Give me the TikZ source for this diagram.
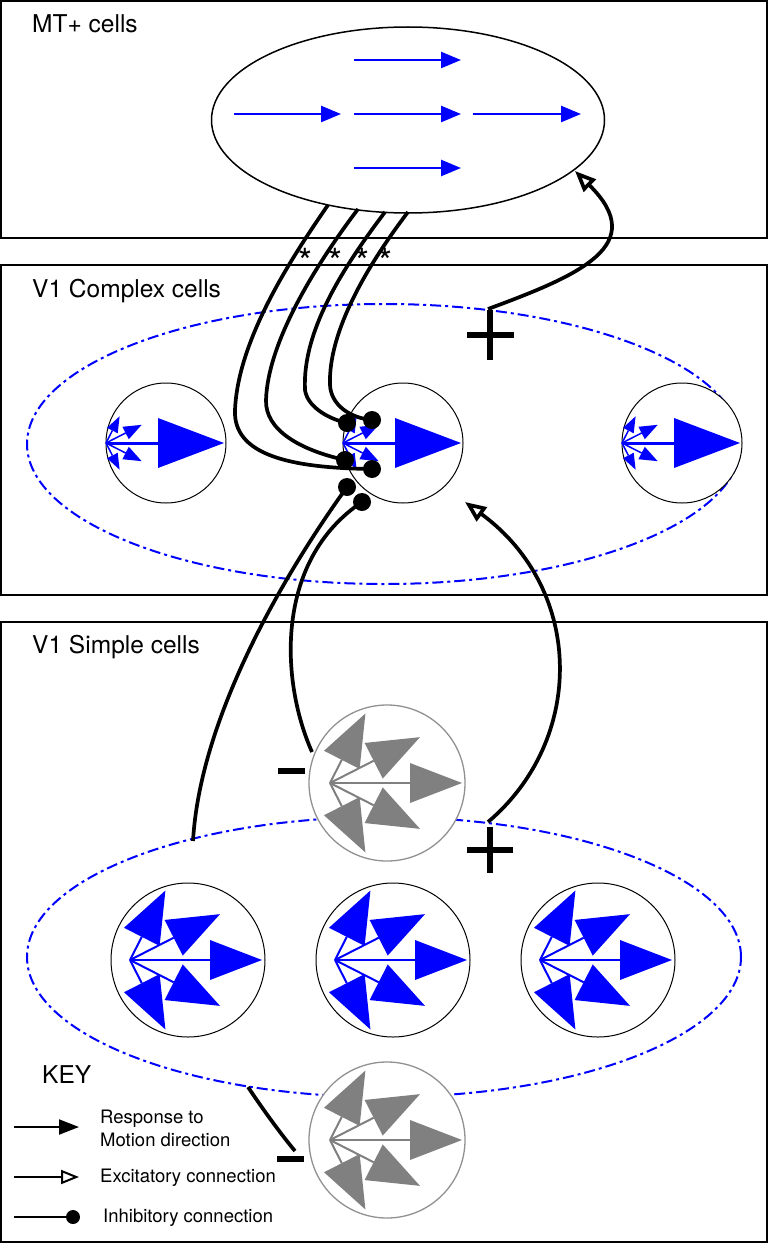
\documentclass[tikz,border=0pt]{standalone}
\usepackage{fontspec}
\setmainfont{TeX Gyre Heros}
\usetikzlibrary{arrows.meta,shapes.geometric}
\definecolor{pblue}{RGB}{0,0,255}
\definecolor{fgray}{RGB}{128,128,128}
\definecolor{ogray}{RGB}{145,145,145}
\tikzset{
  pics/sfan/.style={code={
    \foreach \a/\L in {0/132,27/101,-27/101,63/78,-63/78}{
      \begin{scope}[rotate=\a]
        \draw[line width=2pt,#1] (0,0) -- ({\L-52},0);
        \fill[#1] (\L,0) -- ({\L-52},20) -- ({\L-52},-20) -- cycle;
      \end{scope}}
  }},
  pics/cfan/.style={code={
    \foreach \a/\L/\h/\w in {27/40/18/7,-27/40/18/7,63/30/16/6,-63/30/16/6}{
      \begin{scope}[rotate=\a]
        \draw[line width=1.5pt,pblue] (0,0) -- ({\L-\h},0);
        \fill[pblue] (\L,0) -- ({\L-\h},\w) -- ({\L-\h},-\w) -- cycle;
      \end{scope}}
    \draw[line width=3pt,pblue] (0,0) -- (53,0);
    \fill[pblue] (118,0) -- (52,25) -- (52,-25) -- cycle;
  }}
}
\begin{document}
\begin{tikzpicture}[x=1pt,y=-1pt,
  box/.style={draw,line width=1.5pt},
  pool/.style={ellipse,draw=pblue,line width=2pt,dash pattern=on 11pt off 4pt on 3pt off 4pt,inner sep=0pt,minimum width=714pt,minimum height=280pt},
  ccell/.style={circle,draw,fill=white,line width=1pt,inner sep=0pt,minimum size=120pt},
  scell/.style={circle,draw,fill=white,line width=1pt,inner sep=0pt,minimum size=154pt},
  gcell/.style={circle,draw=ogray,fill=white,line width=1.3pt,inner sep=0pt,minimum size=156pt},
  conn/.style={line width=3.7pt},
  exc/.style={conn,-{Triangle[open,length=21pt,width=17pt]}},
  idot/.style={circle,fill=black,inner sep=0pt,minimum size=18pt},
  mtarrow/.style={pblue,line width=2.5pt,-{Triangle[length=20pt,width=16pt]}},
  keyline/.style={line width=2pt},
  sign/.style={line width=6.5pt},
  title/.style={anchor=base west,inner sep=0pt,font=\fontsize{24.5}{29}\selectfont},
  keytext/.style={anchor=base west,inner sep=0pt,font=\fontsize{18.5}{22}\selectfont},
  astx/.style={anchor=base,inner sep=0pt,font=\fontsize{36}{38}\selectfont}
]
\useasboundingbox (0,0) rectangle (769,1244);
\fill[white] (0,0) rectangle (769,1244);
% boxes
\draw[box] (1,1) rectangle (767,238);
\draw[box] (1,265) rectangle (767,595);
\draw[box] (1,622) rectangle (767,1242);
% pools
\node[pool] (cpool) at (384,444) {};
\node[pool] (spool) at (384,957) {};
% MT+ population
\node[ellipse,draw,line width=1.5pt,inner sep=0pt,minimum width=393pt,minimum height=186pt] (mt) at (408,120) {};
\draw[mtarrow] (354,60) -- (461,60);
\draw[mtarrow] (234,114) -- (341,114);
\draw[mtarrow] (354,114) -- (461,114);
\draw[mtarrow] (473,114) -- (581,114);
\draw[mtarrow] (354,168) -- (461,168);
% cells
\node[ccell] (c1) at (166,443) {};
\node[ccell] (c2) at (403,443) {};
\node[ccell] (c3) at (682,443) {};
\node[scell] (s1) at (188,960) {};
\node[scell] (s2) at (393,960) {};
\node[scell] (s3) at (598,960) {};
\node[gcell] (g1) at (387,783) {};
\node[gcell] (g2) at (387,1140) {};
\pic at (106,443) {cfan};
\pic at (343,443) {cfan};
\pic at (622,443) {cfan};
\pic at (130,960) {sfan=pblue};
\pic at (335,960) {sfan=pblue};
\pic at (540,960) {sfan=pblue};
\pic at (330,783) {sfan=fgray};
\pic at (330,1140) {sfan=fgray};
% connector end points
\coordinate (m1) at (328,205);
\coordinate (m2) at (358,209);
\coordinate (m3) at (385,212);
\coordinate (m4) at (408,212);
\coordinate (d1) at (347,423);
\coordinate (d2) at (372,420);
\coordinate (d3) at (345,460);
\coordinate (d4) at (372,469);
\coordinate (d5) at (347,487);
\coordinate (d6) at (362,502);
\coordinate (sA) at (193,841);
\coordinate (gB) at (312,752);
\coordinate (pc) at (488,309);
\coordinate (mtin) at (575,171);
\coordinate (ps) at (488,822);
\coordinate (cin) at (465,502);
\coordinate (sB) at (248,1087);
\coordinate (gL) at (295,1151);
% MT -> complex inhibitory
\draw[conn] (m1) .. controls (290,260) and (238,340) .. (235,410) .. controls (233,455) and (290,468) .. (d4);
\draw[conn] (m2) .. controls (318,262) and (268,340) .. (266,400) .. controls (265,430) and (300,450) .. (d3);
\draw[conn] (m3) .. controls (345,265) and (302,330) .. (305,390) .. controls (307,405) and (325,418) .. (d1);
\draw[conn] (m4) .. controls (370,262) and (328,330) .. (330,385) .. controls (331,405) and (350,418) .. (d2);
% simple -> complex inhibitory
\draw[conn] (sA) .. controls (200,720) and (280,580) .. (d5);
\draw[conn] (gB) .. controls (280,680) and (275,560) .. (d6);
% excitatory
\draw[exc] (pc) .. controls (580,275) and (650,245) .. (mtin);
\draw[exc] (ps) .. controls (585,740) and (585,590) .. (cin);
% lower inhibitory
\draw[conn] (sB) .. controls (262,1108) and (280,1133) .. (gL);
% dots
\foreach \d in {d1,d2,d3,d4,d5,d6}{\node[idot] at (\d) {};}
% signs
\draw[sign] (467,335) -- (514,335);
\draw[sign] (490,310) -- (490,360);
\draw[sign] (467,850) -- (513,850);
\draw[sign] (490,827) -- (490,873);
\draw[sign] (278,771) -- (305,771);
\draw[sign] (277,1159) -- (304,1159);
% stars
\node[astx] (st1) at (305,274) {*};
\node[astx] (st2) at (335,274) {*};
\node[astx] (st3) at (362,274) {*};
\node[astx] (st4) at (385,274) {*};
% titles
\node[title] (tmt) at (32,33) {MT+ cells};
\node[title] (tcx) at (32,297) {V1 Complex cells};
\node[title] (tsp) at (32,653) {V1 Simple cells};
\node[title] (tkey) at (42,1083) {KEY};
% key
\coordinate (k1a) at (14,1127); \coordinate (k1b) at (79,1127);
\coordinate (k2a) at (14,1177); \coordinate (k2b) at (79,1177);
\coordinate (k3a) at (14,1217); \coordinate (k3b) at (73,1217);
\draw[keyline,-{Triangle[length=20pt,width=15pt]}] (k1a) -- (k1b);
\draw[keyline,-{Triangle[open,length=18pt,width=14pt]}] (k2a) -- (k2b);
\draw[keyline] (k3a) -- (k3b);
\node[circle,fill=black,inner sep=0pt,minimum size=14pt] (k3d) at (k3b) {};
\node[keytext] (kt1) at (100,1123) {Response to};
\node[keytext] (kt2) at (100,1146) {Motion direction};
\node[keytext] (kt3) at (100,1182) {Excitatory connection};
\node[keytext] (kt4) at (103,1222) {Inhibitory connection};
\end{tikzpicture}
\end{document}
